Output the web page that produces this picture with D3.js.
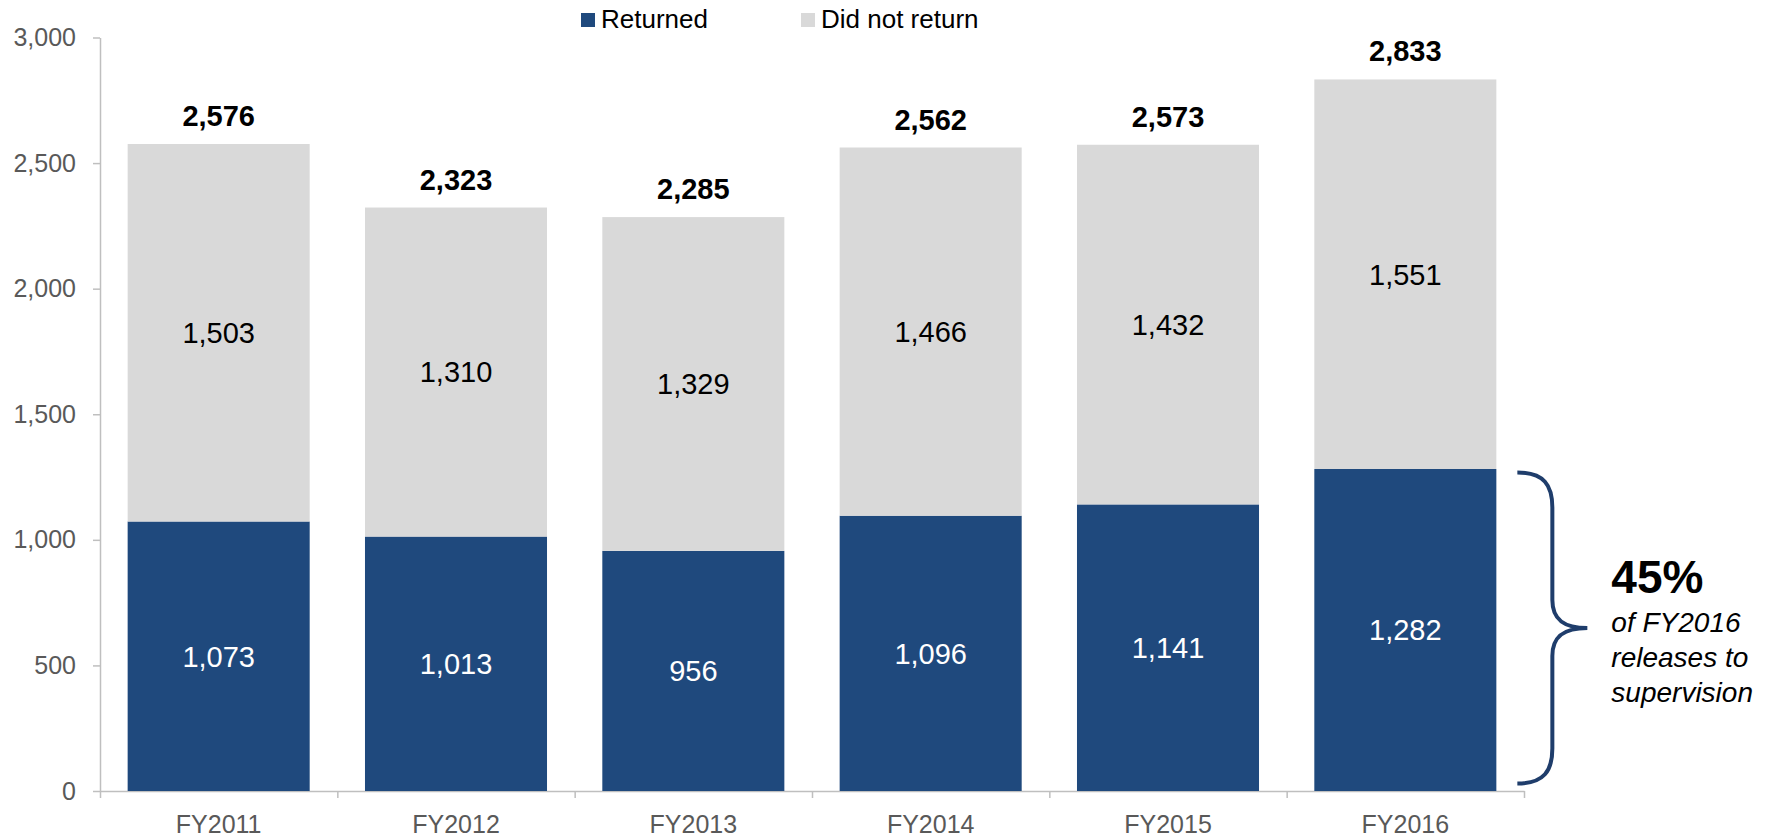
<!DOCTYPE html>
<html>
<head>
<meta charset="utf-8">
<script src="https://cdn.jsdelivr.net/npm/d3@7"></script>
<style>
  body { margin: 0; background: #fff; }
  text { font-family: "Liberation Sans", Arial, sans-serif; }
</style>
</head>
<body>
<svg id="graph" width="1779" height="839"></svg>
<script>
// Data
var years = ["FY2011", "FY2012", "FY2013", "FY2014", "FY2015", "FY2016"];
var returned = [1073, 1013, 956, 1096, 1141, 1282];
var didNotReturn = [1503, 1310, 1329, 1466, 1432, 1551];
var yTicks = [0, 500, 1000, 1500, 2000, 2500, 3000];
var seriesNames = ["Returned", "Did not return"];
var seriesColors = ["#1f497d", "#d9d9d9"];
var calloutPct = "45%";
var calloutLines = ["of FY2016", "releases to", "supervision"];

var svg = d3.select("#graph"),
    margin = {left: 100, right: 255, top: 37.5, bottom: 48};
var width = +svg.attr("width"), height = +svg.attr("height");
var fmt = d3.format(",");

// Rows for the stack
var rows = years.map(function(y, i) {
    return {year: y, returned: returned[i], didNot: didNotReturn[i]};
});
var stacked = d3.stack().keys(["returned", "didNot"])(rows);

// Scales
var x = d3.scaleBand().domain(years)
    .range([margin.left, width - margin.right])
    .paddingInner(0.233).paddingOuter(0.1165);
var xEdge = d3.scaleLinear().domain([0, years.length]).range([margin.left, width - margin.right]);
var y = d3.scaleLinear().domain([0, 3000]).range([height - margin.bottom, margin.top]);

// Y axis
var gy = svg.append("g").attr("transform", "translate(" + margin.left + ",0)")
    .call(d3.axisLeft(y).tickValues(yTicks).tickSize(7).tickSizeOuter(0).tickPadding(17).tickFormat(fmt));
gy.select(".domain").attr("stroke", "#bfbfbf").attr("stroke-width", 1.5);
gy.selectAll(".tick line").attr("stroke", "#bfbfbf").attr("stroke-width", 1.5);
gy.selectAll(".tick text").attr("fill", "#595959").style("font-size", "25px")
    .style("font-family", "'Liberation Sans', Arial, sans-serif");

// X axis with ticks at category boundaries
var gx = svg.append("g").attr("transform", "translate(0," + y(0) + ")")
    .call(d3.axisBottom(xEdge).tickValues(d3.range(years.length + 1)).tickSize(7).tickSizeOuter(0).tickFormat(""));
gx.select(".domain").attr("stroke", "#bfbfbf").attr("stroke-width", 1.5);
gx.selectAll(".tick line").attr("stroke", "#bfbfbf").attr("stroke-width", 1.5);

svg.append("g").selectAll("text").data(years).enter().append("text")
    .attr("x", d => x(d) + x.bandwidth() / 2)
    .attr("y", y(0) + 42)
    .attr("text-anchor", "middle")
    .attr("fill", "#595959")
    .style("font-size", "25px")
    .text(d => d);

// Bars
stacked.forEach(function(layer, li) {
    svg.append("g").selectAll("rect").data(layer).enter().append("rect")
        .attr("x", d => x(d.data.year))
        .attr("y", d => y(d[1]))
        .attr("width", x.bandwidth())
        .attr("height", d => y(d[0]) - y(d[1]))
        .attr("fill", seriesColors[li]);

    // Segment labels
    svg.append("g").selectAll("text").data(layer).enter().append("text")
        .attr("x", d => x(d.data.year) + x.bandwidth() / 2)
        .attr("y", d => (y(d[0]) + y(d[1])) / 2)
        .attr("dy", "0.36em")
        .attr("text-anchor", "middle")
        .attr("fill", li == 0 ? "#ffffff" : "#000000")
        .style("font-size", "29px")
        .text(d => fmt(d[1] - d[0]));
});

// Totals above the bars
svg.append("g").selectAll("text").data(rows).enter().append("text")
    .attr("x", d => x(d.year) + x.bandwidth() / 2)
    .attr("y", d => y(d.returned + d.didNot) - 18)
    .attr("text-anchor", "middle")
    .attr("fill", "#000")
    .style("font-size", "29px")
    .style("font-weight", "bold")
    .text(d => fmt(d.returned + d.didNot));

// Legend
var legendX = [581, 801];
seriesNames.forEach(function(name, i) {
    svg.append("rect").attr("x", legendX[i]).attr("y", 13).attr("width", 14).attr("height", 14)
        .attr("fill", seriesColors[i]);
    svg.append("text").attr("x", legendX[i] + 20).attr("y", 28)
        .attr("fill", "#000").style("font-size", "26px").text(name);
});

// Brace next to the FY2016 returned segment
var last = years[years.length - 1];
var bx0 = x(last) + x.bandwidth() + 21,
    bx1 = bx0 + 35,
    bx2 = bx0 + 70,
    bTop = y(returned[returned.length - 1]) + 3.5,
    bBot = y(0) - 7.5,
    bMid = (bTop + bBot) / 2;
var brace = d3.path();
brace.moveTo(bx0, bTop);
brace.bezierCurveTo(bx0 + 27, bTop, bx1, bTop + 13, bx1, bTop + 35);
brace.lineTo(bx1, bMid - 28);
brace.bezierCurveTo(bx1, bMid - 8, bx1 + 12, bMid, bx2, bMid);
brace.bezierCurveTo(bx1 + 12, bMid, bx1, bMid + 8, bx1, bMid + 28);
brace.lineTo(bx1, bBot - 35);
brace.bezierCurveTo(bx1, bBot - 13, bx0 + 27, bBot, bx0, bBot);
svg.append("path").attr("d", brace.toString())
    .attr("fill", "none").attr("stroke", "#1f3d6b").attr("stroke-width", 4);

svg.append("text").attr("x", bx2 + 24).attr("y", bMid - 35)
    .attr("fill", "#000").style("font-size", "46px").style("font-weight", "bold")
    .text(calloutPct);
calloutLines.forEach(function(t, i) {
    svg.append("text").attr("x", bx2 + 24).attr("y", bMid + 4 + i * 35)
        .attr("fill", "#000").style("font-size", "28px").style("font-style", "italic")
        .text(t);
});
</script>
</body>
</html>
